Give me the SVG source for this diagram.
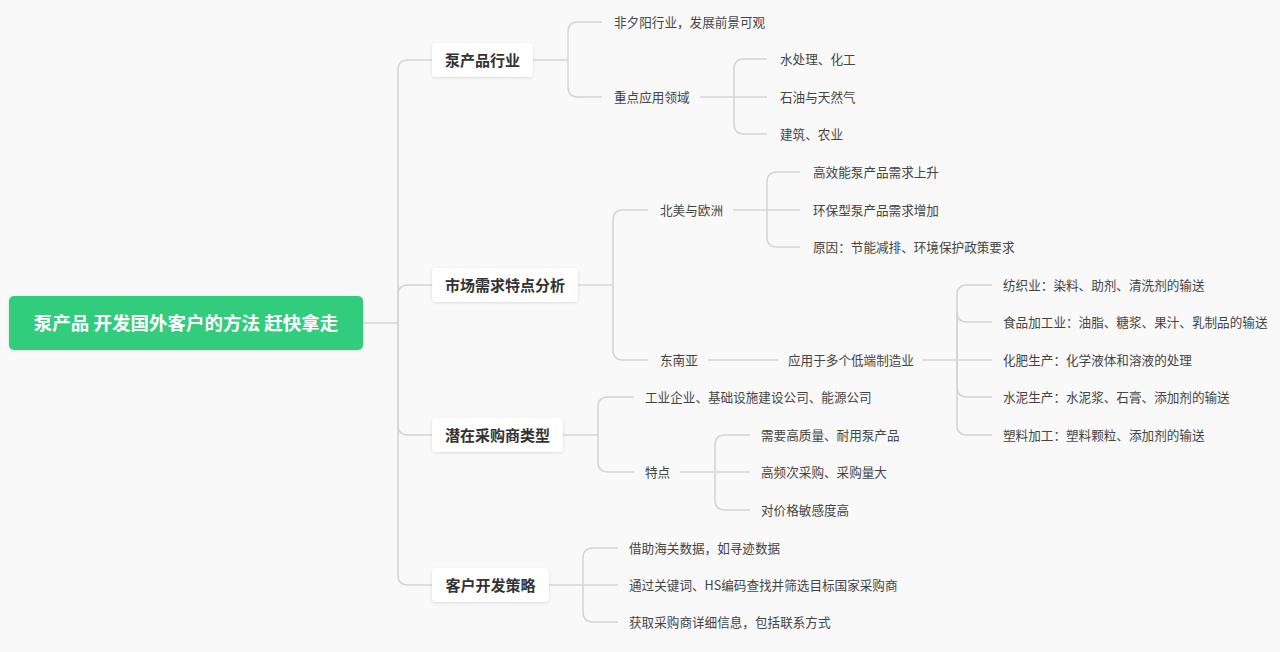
<svg xmlns="http://www.w3.org/2000/svg" width="1280" height="652" viewBox="0 0 1280 652">
<defs>
<filter id="sh" x="-20%" y="-30%" width="140%" height="160%"><feDropShadow dx="0" dy="1" stdDeviation="1.5" flood-color="#000" flood-opacity="0.12"/></filter>
<style>
text{font-family:"Noto Sans CJK SC","Noto Sans",sans-serif}
.leaf{font-size:12.6px;fill:#444;dominant-baseline:central}
.l1{font-size:15px;font-weight:bold;fill:#333;dominant-baseline:central}
.box{fill:#fff;filter:url(#sh)}
#connectors path{fill:none;stroke:#d4d4d4;stroke-width:1.5}
</style>
</defs>
<rect width="1280" height="652" fill="#f9f9f9"/>
<g id="connectors">
<path d="M363,323 H398"/>
<path d="M398,323 V70 Q398,60 408,60 H432"/>
<path d="M398,323 V295 Q398,285 408,285 H432"/>
<path d="M398,323 V425 Q398,435 408,435 H432"/>
<path d="M398,323 V575 Q398,585 408,585 H432"/>
<path d="M533,60 H568"/>
<path d="M568,60 V32 Q568,22 578,22 H602"/>
<path d="M568,60 V87 Q568,97 578,97 H602"/>
<path d="M700,97 H734"/>
<path d="M734,97 V69 Q734,59 744,59 H767"/>
<path d="M734,97 H767"/>
<path d="M734,97 V124 Q734,134 744,134 H767"/>
<path d="M578,285 H613"/>
<path d="M613,285 V220 Q613,210 623,210 H648"/>
<path d="M613,285 V350 Q613,360 623,360 H648"/>
<path d="M733,210 H767"/>
<path d="M767,210 V182 Q767,172 777,172 H800"/>
<path d="M767,210 H800"/>
<path d="M767,210 V237 Q767,247 777,247 H800"/>
<path d="M708,360 H778"/>
<path d="M922,360 H957"/>
<path d="M957,360 V295 Q957,285 967,285 H992"/>
<path d="M957,360 V312 Q957,322 967,322 H992"/>
<path d="M957,360 H992"/>
<path d="M957,360 V387 Q957,397 967,397 H992"/>
<path d="M957,360 V425 Q957,435 967,435 H992"/>
<path d="M563,435 H598"/>
<path d="M598,435 V407 Q598,397 608,397 H634"/>
<path d="M598,435 V462 Q598,472 608,472 H634"/>
<path d="M680,472 H715"/>
<path d="M715,472 V445 Q715,435 725,435 H750"/>
<path d="M715,472 H750"/>
<path d="M715,472 V500 Q715,510 725,510 H750"/>
<path d="M549,585 H583"/>
<path d="M583,585 V558 Q583,548 593,548 H618"/>
<path d="M583,585 H618"/>
<path d="M583,585 V612 Q583,622 593,622 H618"/>
</g>
<g id="root"><rect x="9" y="296" width="354" height="54" rx="5" fill="#31cd7b" filter="url(#sh)"/><text x="186" y="322" text-anchor="middle" dominant-baseline="central" font-size="18.5" font-weight="bold" fill="#fff">泵产品 开发国外客户的方法 赶快拿走</text></g>
<g id="n1"><rect class="box" x="432" y="43" width="101" height="34" rx="4"/><text class="l1" x="482.5" y="59" text-anchor="middle">泵产品行业</text></g>
<g id="n2"><rect class="box" x="432" y="268" width="146" height="34" rx="4"/><text class="l1" x="505" y="284" text-anchor="middle">市场需求特点分析</text></g>
<g id="n3"><rect class="box" x="432" y="418" width="131" height="34" rx="4"/><text class="l1" x="497.5" y="434" text-anchor="middle">潜在采购商类型</text></g>
<g id="n4"><rect class="box" x="432" y="568" width="117" height="34" rx="4"/><text class="l1" x="490.5" y="584" text-anchor="middle">客户开发策略</text></g>
<g id="l1a"><text class="leaf" x="614" y="21">非夕阳行业，发展前景可观</text></g>
<g id="l1b"><text class="leaf" x="614" y="96">重点应用领域</text></g>
<g id="l1b1"><text class="leaf" x="780" y="58">水处理、化工</text></g>
<g id="l1b2"><text class="leaf" x="780" y="96">石油与天然气</text></g>
<g id="l1b3"><text class="leaf" x="780" y="133">建筑、农业</text></g>
<g id="l2a"><text class="leaf" x="660" y="209">北美与欧洲</text></g>
<g id="l2a1"><text class="leaf" x="813" y="171">高效能泵产品需求上升</text></g>
<g id="l2a2"><text class="leaf" x="813" y="209">环保型泵产品需求增加</text></g>
<g id="l2a3"><text class="leaf" x="813" y="246">原因：节能减排、环境保护政策要求</text></g>
<g id="l2b"><text class="leaf" x="660" y="359">东南亚</text></g>
<g id="l2b1"><text class="leaf" x="788" y="359">应用于多个低端制造业</text></g>
<g id="l2b1a"><text class="leaf" x="1003" y="284">纺织业：染料、助剂、清洗剂的输送</text></g>
<g id="l2b1b"><text class="leaf" x="1003" y="321">食品加工业：油脂、糖浆、果汁、乳制品的输送</text></g>
<g id="l2b1c"><text class="leaf" x="1003" y="359">化肥生产：化学液体和溶液的处理</text></g>
<g id="l2b1d"><text class="leaf" x="1003" y="396">水泥生产：水泥浆、石膏、添加剂的输送</text></g>
<g id="l2b1e"><text class="leaf" x="1003" y="434">塑料加工：塑料颗粒、添加剂的输送</text></g>
<g id="l3a"><text class="leaf" x="645" y="396">工业企业、基础设施建设公司、能源公司</text></g>
<g id="l3b"><text class="leaf" x="645" y="471">特点</text></g>
<g id="l3b1"><text class="leaf" x="761" y="434">需要高质量、耐用泵产品</text></g>
<g id="l3b2"><text class="leaf" x="761" y="471">高频次采购、采购量大</text></g>
<g id="l3b3"><text class="leaf" x="761" y="509">对价格敏感度高</text></g>
<g id="l4a"><text class="leaf" x="629" y="547">借助海关数据，如寻迹数据</text></g>
<g id="l4b"><text class="leaf" x="629" y="584">通过关键词、HS编码查找并筛选目标国家采购商</text></g>
<g id="l4c"><text class="leaf" x="629" y="621">获取采购商详细信息，包括联系方式</text></g>
</svg>
